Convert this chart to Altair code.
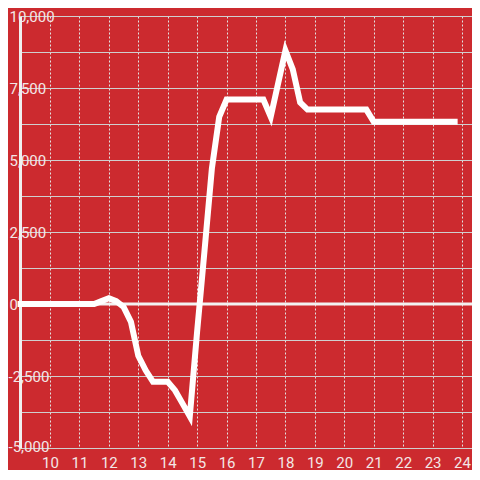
import altair as alt
import pandas as pd

# hours (every 15 minutes) and values
hours = [9 + 0.25 * i for i in range(60)]
values = (
    [0] * 11                                   # 9:00 - 11:30
    + [100, 200, 100, -100, -620, -1800, -2300, -2700, -2700, -2700,
       -3000, -3450, -3900, -950, 1850, 4700, 6500]   # 11:45 - 15:45
    + [7100] * 6                               # 16:00 - 17:15
    + [6500, 7650, 8800, 8150, 7000]           # 17:30 - 18:30
    + [6750] * 9                               # 18:45 - 20:45
    + [6330] * 12                              # 21:00 - 23:45
)
x_ticks = list(range(10, 25))
y_grid = [-5000 + 1250 * i for i in range(13)]

df = pd.DataFrame({"h": hours, "v": values})
zero = pd.DataFrame({"v": [0]})

BG = "#cc2a2f"
LABEL = "#f3e6e6"
FONT = "Roboto"

xs = alt.Scale(domain=[8.98, 24.34], nice=False, zero=False)
ys = alt.Scale(domain=[-5000, 10000], nice=False, zero=False)

x_axis = alt.Axis(
    values=x_ticks, title=None, domain=False, ticks=False, tickSize=0,
    grid=True, gridColor="#e2e2e2", gridDash=[2, 2], gridWidth=1,
    labelFont=FONT, labelFontSize=15, labelColor=LABEL, labelPadding=7,
    labelFlush=False,
)
y_axis = alt.Axis(
    values=y_grid, title=None, domain=True, domainColor="#f0f0f0", domainWidth=3,
    ticks=False, tickSize=0, grid=True, gridColor="#cfcfcf", gridWidth=1,
    labelFont=FONT, labelFontSize=15, labelColor=LABEL, labelAlign="left",
    labelBaseline="middle", labelFlush=False,
    labelPadding={"condition": {"test": "datum.value < 0", "value": 12}, "value": 11},
    labelOffset={"condition": {"test": "datum.value == -5000", "value": -2}, "value": 0},
    labelExpr="datum.value % 2500 == 0 ? (datum.value < 0 ? '-' + format(-datum.value, ',') : format(datum.value, ',')) : ''",
)

rule = alt.Chart(zero).mark_rule(color="#f2f2f2", strokeWidth=3).encode(
    y=alt.Y("v:Q", scale=ys, axis=y_axis)
)
line = alt.Chart(df).mark_line(
    color="#ffffff", strokeWidth=6, strokeCap="square", strokeJoin="miter"
).encode(
    x=alt.X("h:Q", scale=xs, axis=x_axis),
    y=alt.Y("v:Q", scale=ys, axis=y_axis),
)

chart = (
    alt.layer(rule, line)
    .properties(
        width=452, height=432,
        background=BG,
        padding={"left": 12, "top": 8, "right": 0, "bottom": 22},
        autosize=alt.AutoSizeParams(type="none"),
    )
    .configure_view(stroke=None)
)

chart.save("out.html", embed_options={"renderer": "svg", "actions": False})
